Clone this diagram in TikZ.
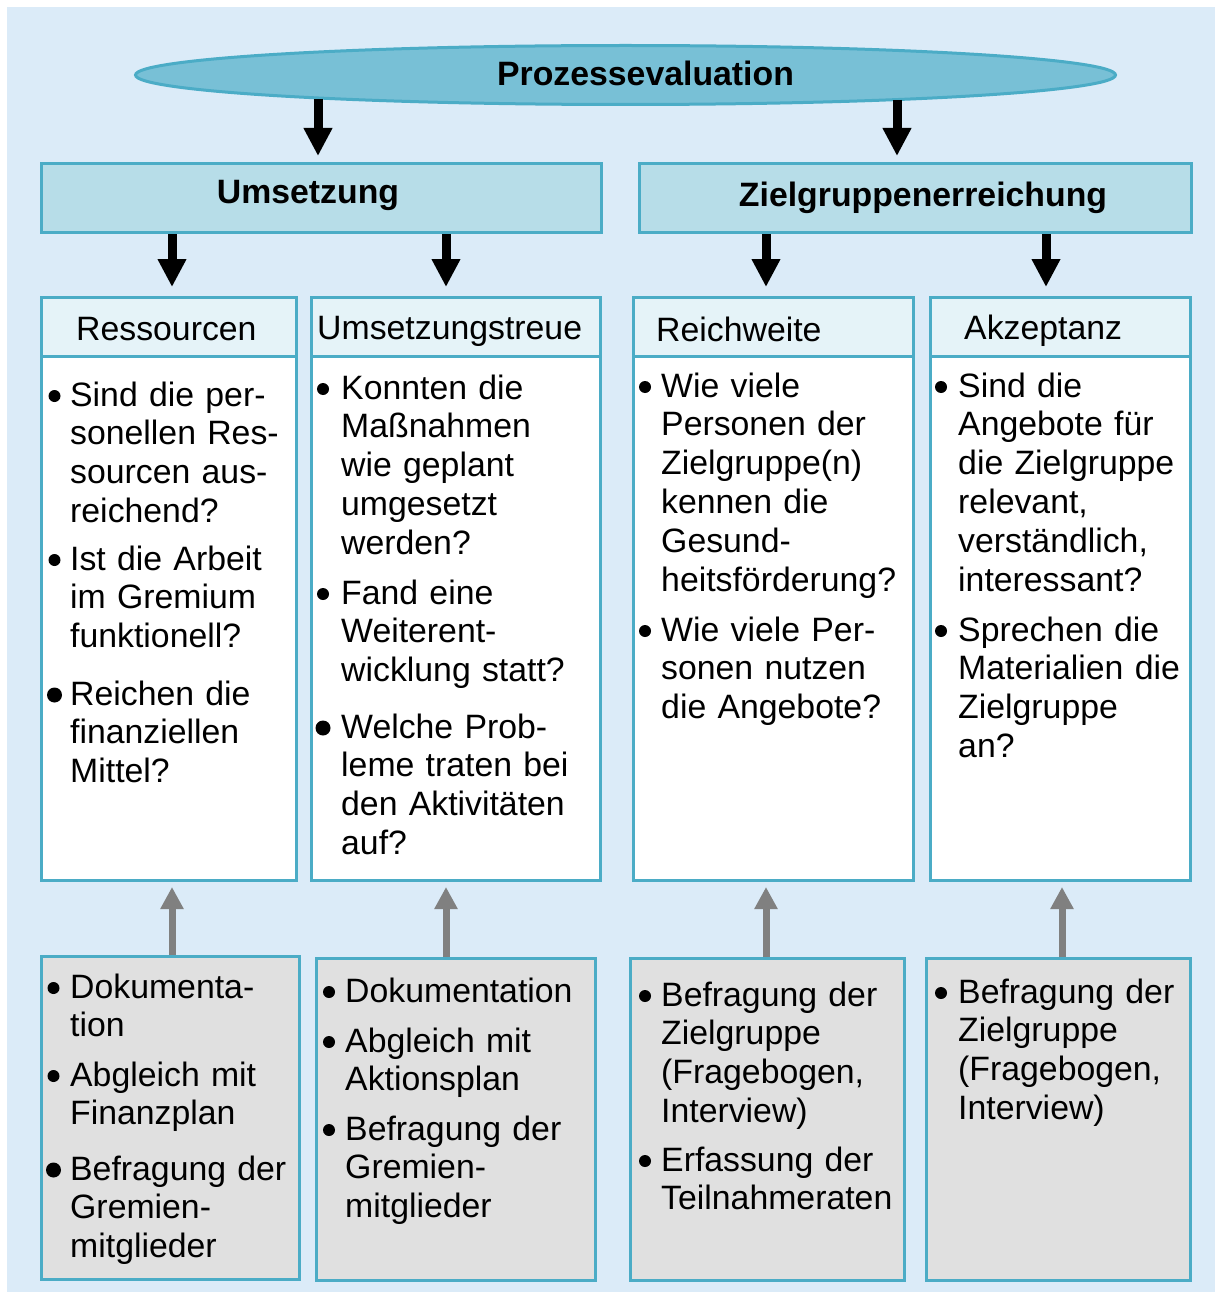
\documentclass[tikz,border=0pt]{standalone}
\usepackage{fontspec}
\setmainfont{Liberation Sans}
\usetikzlibrary{arrows.meta,shapes.geometric}

\definecolor{bgblue}{HTML}{DBEBF8}
\definecolor{framecol}{HTML}{4BACC6}
\definecolor{ellfill}{HTML}{78C0D6}
\definecolor{headfill}{HTML}{B7DDE8}
\definecolor{titlefill}{HTML}{E5F3F8}
\definecolor{methfill}{HTML}{E0E0E0}
\definecolor{upgrey}{HTML}{808080}

\newcommand\txtsize{\fontsize{33.8}{38.9}\selectfont}

\begin{document}
\begin{tikzpicture}[x=1pt,y=-1pt,
  box/.style={draw=framecol, line width=3pt, rectangle, inner sep=0pt, anchor=north west},
  qbox/.style={box, fill=white},
  tband/.style={box, fill=titlefill},
  hbox/.style={box, fill=headfill},
  mbox/.style={box, fill=methfill},
  itm/.style={anchor=base west, inner sep=0pt, text width=300pt, align=left, font=\txtsize},
  ttl/.style={anchor=base west, inner sep=0pt, font=\txtsize},
  hdr/.style={anchor=base, inner sep=0pt, font=\txtsize\bfseries},
  dot/.style={circle, fill=black, inner sep=0pt, minimum size=12pt},
  bigdot/.style={dot, minimum size=15pt},
  bigarr/.style={line width=9pt, -{Triangle[width=27pt,length=28pt]}},
  greyarr/.style={draw=upgrey, line width=7pt, -{Triangle[width=22pt,length=22pt]}, upgrey},
]
\useasboundingbox (0,0) rectangle (1215,1292);
\fill[bgblue] (7,7) rectangle (1215,1292);

% top ellipse
\node[ellipse, draw=framecol, fill=ellfill, line width=3pt, inner sep=0pt,
      minimum width=980pt, minimum height=59pt] (pe) at (625.5,75) {};
\node[hdr] (peT) at (645.5,86) {Prozessevaluation};

% second level
\node[hbox, minimum width=560pt, minimum height=69pt] (ums) at (40,162) {};
\node[hdr] (umsT) at (308,204) {Umsetzung};
\node[hbox, minimum width=552pt, minimum height=69pt] (zge) at (638,162) {};
\node[hdr] (zgeT) at (923,206) {Zielgruppenerreichung};

% question columns
\node[qbox, minimum width=255pt, minimum height=583pt] (res) at (40,296) {};
\node[tband, minimum width=255pt, minimum height=59pt] (resB) at (40,296) {};
\node[ttl] (resT) at (76,340) {Ressourcen};

\node[qbox, minimum width=289pt, minimum height=583pt] (utr) at (310,296) {};
\node[tband, minimum width=289pt, minimum height=59pt] (utrB) at (310,296) {};
\node[ttl] (utrT) at (317,339) {Umsetzungstreue};

\node[qbox, minimum width=280pt, minimum height=583pt] (rw) at (632,296) {};
\node[tband, minimum width=280pt, minimum height=59pt] (rwB) at (632,296) {};
\node[ttl] (rwT) at (656,341) {Reichweite};

\node[qbox, minimum width=260pt, minimum height=583pt] (akz) at (929,296) {};
\node[tband, minimum width=260pt, minimum height=59pt] (akzB) at (929,296) {};
\node[ttl] (akzT) at (964,339) {Akzeptanz};

% method boxes
\node[mbox, minimum width=258pt, minimum height=323pt] (m1) at (40,955) {};
\node[mbox, minimum width=279pt, minimum height=322pt] (m2) at (315,957) {};
\node[mbox, minimum width=274pt, minimum height=322pt] (m3) at (629,957) {};
\node[mbox, minimum width=264pt, minimum height=322pt] (m4) at (925,957) {};

% questions: Ressourcen
\node[dot] (r1d) at (54.5,396) {};
\node[itm] (r1) at (70,406) {Sind die per-\\sonellen Res-\\sourcen aus-\\reichend?};
\node[dot] (r2d) at (54.5,560) {};
\node[itm] (r2) at (70,570) {Ist die Arbeit\\im Gremium\\funktionell?};
\node[bigdot] (r3d) at (54.5,695) {};
\node[itm] (r3) at (70,705) {Reichen die\\finanziellen\\Mittel?};

% questions: Umsetzungstreue
\node[dot] (u1d) at (323,389) {};
\node[itm] (u1) at (341,399) {Konnten die\\Maßnahmen\\wie geplant\\umgesetzt\\werden?};
\node[dot] (u2d) at (323,594) {};
\node[itm] (u2) at (341,604) {Fand eine\\Weiterent-\\wicklung statt?};
\node[bigdot] (u3d) at (323,728) {};
\node[itm] (u3) at (341,738) {Welche Prob-\\leme traten bei\\den Aktivitäten\\auf?};

% questions: Reichweite
\node[dot] (w1d) at (645,387) {};
\node[itm] (w1) at (661,397) {Wie viele\\Personen der\\Zielgruppe(n)\\kennen die\\Gesund-\\heitsförderung?};
\node[dot] (w2d) at (645,631) {};
\node[itm] (w2) at (661,641) {Wie viele Per-\\sonen nutzen\\die Angebote?};

% questions: Akzeptanz
\node[dot] (k1d) at (941,387) {};
\node[itm] (k1) at (958,397) {Sind die\\Angebote für\\die Zielgruppe\\relevant,\\verständlich,\\interessant?};
\node[dot] (k2d) at (941,631) {};
\node[itm] (k2) at (958,641) {Sprechen die\\Materialien die\\Zielgruppe\\an?};

% methods
\node[dot] (d1d) at (53.5,988) {};
\node[itm] (d1) at (70,998) {Dokumenta-\\tion};
\node[dot] (d2d) at (53.5,1076) {};
\node[itm] (d2) at (70,1086) {Abgleich mit\\Finanzplan};
\node[bigdot] (d3d) at (53.5,1170) {};
\node[itm] (d3) at (70,1180) {Befragung der\\Gremien-\\mitglieder};

\node[dot] (e1d) at (329,992) {};
\node[itm] (e1) at (345,1002) {Dokumentation};
\node[dot] (e2d) at (329,1042) {};
\node[itm] (e2) at (345,1052) {Abgleich mit\\Aktionsplan};
\node[dot] (e3d) at (329,1130) {};
\node[itm] (e3) at (345,1140) {Befragung der\\Gremien-\\mitglieder};

\node[dot] (f1d) at (645,996) {};
\node[itm] (f1) at (661,1006) {Befragung der\\Zielgruppe\\(Fragebogen,\\Interview)};
\node[dot] (f2d) at (645,1161) {};
\node[itm] (f2) at (661,1171) {Erfassung der\\Teilnahmeraten};

\node[dot] (g1d) at (941,993) {};
\node[itm] (g1) at (958,1003) {Befragung der\\Zielgruppe\\(Fragebogen,\\Interview)};

% arrow positions
\coordinate (xl) at (318,99);
\coordinate (xr) at (897,100);
\coordinate (xa) at (172,0);
\coordinate (xb) at (446,0);
\coordinate (xc) at (766,0);
\coordinate (xd) at (1046,0);
\coordinate (xe) at (1062,0);

% downward arrows
\draw[bigarr, shorten >=6pt] (xl) -- (ums.north -| xl);
\draw[bigarr, shorten >=6pt] (xr) -- (zge.north -| xr);
\draw[bigarr, shorten >=9pt] (ums.south -| xa) -- (res.north -| xa);
\draw[bigarr, shorten >=9pt] (ums.south -| xb) -- (utr.north -| xb);
\draw[bigarr, shorten >=9pt] (zge.south -| xc) -- (rw.north -| xc);
\draw[bigarr, shorten >=9pt] (zge.south -| xd) -- (akz.north -| xd);

% upward arrows from the methods
\draw[greyarr, shorten >=5pt] (m1.north -| xa) -- (res.south -| xa);
\draw[greyarr, shorten >=5pt] (m2.north -| xb) -- (utr.south -| xb);
\draw[greyarr, shorten >=5pt] (m3.north -| xc) -- (rw.south -| xc);
\draw[greyarr, shorten >=5pt] (m4.north -| xe) -- (akz.south -| xe);
\end{tikzpicture}
\end{document}
